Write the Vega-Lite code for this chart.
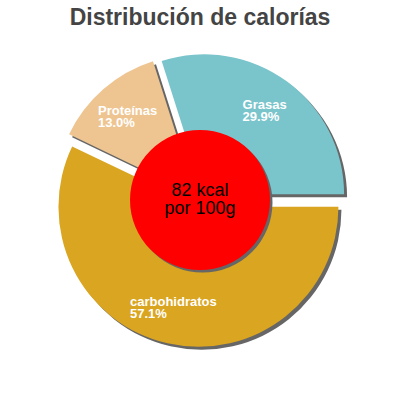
{
  "$schema": "https://vega.github.io/schema/vega-lite/v6.json",
  "width": 400,
  "height": 400,
  "padding": {"top": 7, "bottom": 30, "left": 0, "right": 0},
  "autosize": {"type": "fit", "contains": "padding"},
  "background": "white",
  "title": {
    "text": "Distribución de calorías",
    "fontSize": 23,
    "font": "Liberation Sans",
    "fontWeight": "bold",
    "color": "#444444",
    "anchor": "middle",
    "frame": "group",
    "baseline": "top",
    "offset": 0
  },
  "datasets": {
    "slices": [
      {"cat": "carbohidratos", "pct": 57.1, "ord": 1, "label": ["carbohidratos", "57.1%"]},
      {"cat": "Proteínas", "pct": 13.0, "ord": 2, "label": ["Proteínas", "13.0%"]},
      {"cat": "Grasas", "pct": 29.9, "ord": 3, "label": ["Grasas", "29.9%"]}
    ],
    "center": [
      {"kcal": ["82 kcal", "por 100g"]}
    ]
  },
  "layer": [
    {
      "data": {"name": "slices"},
      "layer": [
        {
          "mark": {"type": "arc", "outerRadius": 140, "innerRadius": 50, "fill": "#666666", "xOffset": 1.45, "yOffset": 9.8},
          "encoding": {
            "theta": {"field": "pct", "type": "quantitative", "stack": true, "scale": {"domain": [0, 100], "range": [1.5708, 7.854]}},
            "order": {"field": "ord", "type": "quantitative"},
            "opacity": {"condition": {"test": "datum.cat === 'carbohidratos'", "value": 1}, "value": 0}
          }
        },
        {
          "mark": {"type": "arc", "outerRadius": 140, "innerRadius": 50, "fill": "#666666", "xOffset": -1.6, "yOffset": -2.3},
          "encoding": {
            "theta": {"field": "pct", "type": "quantitative", "stack": true},
            "order": {"field": "ord", "type": "quantitative"},
            "opacity": {"condition": {"test": "datum.cat === 'Proteínas'", "value": 1}, "value": 0}
          }
        },
        {
          "mark": {"type": "arc", "outerRadius": 140, "innerRadius": 50, "fill": "#666666", "xOffset": 7.1, "yOffset": -2.65},
          "encoding": {
            "theta": {"field": "pct", "type": "quantitative", "stack": true},
            "order": {"field": "ord", "type": "quantitative"},
            "opacity": {"condition": {"test": "datum.cat === 'Grasas'", "value": 1}, "value": 0}
          }
        },
        {
          "mark": {"type": "arc", "outerRadius": 140, "innerRadius": 50, "fill": "#daa520", "xOffset": -1.55, "yOffset": 6.8},
          "encoding": {
            "theta": {"field": "pct", "type": "quantitative", "stack": true},
            "order": {"field": "ord", "type": "quantitative"},
            "opacity": {"condition": {"test": "datum.cat === 'carbohidratos'", "value": 1}, "value": 0}
          }
        },
        {
          "mark": {"type": "arc", "outerRadius": 140, "innerRadius": 50, "fill": "#eec591", "xOffset": -4.6, "yOffset": -5.3},
          "encoding": {
            "theta": {"field": "pct", "type": "quantitative", "stack": true},
            "order": {"field": "ord", "type": "quantitative"},
            "opacity": {"condition": {"test": "datum.cat === 'Proteínas'", "value": 1}, "value": 0}
          }
        },
        {
          "mark": {"type": "arc", "outerRadius": 140, "innerRadius": 50, "fill": "#7ac4cc", "xOffset": 4.1, "yOffset": -5.65},
          "encoding": {
            "theta": {"field": "pct", "type": "quantitative", "stack": true},
            "order": {"field": "ord", "type": "quantitative"},
            "opacity": {"condition": {"test": "datum.cat === 'Grasas'", "value": 1}, "value": 0}
          }
        },
        {
          "mark": {"type": "text", "radius": 102, "xOffset": -1.55, "yOffset": 6.8, "dx": -45.9, "dy": -4.7, "align": "left", "baseline": "middle", "fontSize": 13, "fontWeight": "bold", "lineHeight": 12, "font": "Liberation Sans", "color": "white"},
          "encoding": {
            "theta": {"field": "pct", "type": "quantitative", "stack": true},
            "order": {"field": "ord", "type": "quantitative"},
            "text": {"condition": {"test": "datum.cat === 'carbohidratos'", "field": "label"}, "value": ""}
          }
        },
        {
          "mark": {"type": "text", "radius": 102, "xOffset": -4.6, "yOffset": -5.3, "dx": -30.4, "dy": -6.7, "align": "left", "baseline": "middle", "fontSize": 13, "fontWeight": "bold", "lineHeight": 12, "font": "Liberation Sans", "color": "white"},
          "encoding": {
            "theta": {"field": "pct", "type": "quantitative", "stack": true},
            "order": {"field": "ord", "type": "quantitative"},
            "text": {"condition": {"test": "datum.cat === 'Proteínas'", "field": "label"}, "value": ""}
          }
        },
        {
          "mark": {"type": "text", "radius": 102, "xOffset": 4.1, "yOffset": -5.65, "dx": -21.8, "dy": -7.4, "align": "left", "baseline": "middle", "fontSize": 13, "fontWeight": "bold", "lineHeight": 12, "font": "Liberation Sans", "color": "white"},
          "encoding": {
            "theta": {"field": "pct", "type": "quantitative", "stack": true},
            "order": {"field": "ord", "type": "quantitative"},
            "text": {"condition": {"test": "datum.cat === 'Grasas'", "field": "label"}, "value": ""}
          }
        }
      ]
    },
    {
      "data": {"name": "center"},
      "layer": [
        {
          "mark": {"type": "arc", "outerRadius": 70, "innerRadius": 0, "fill": "#666666", "xOffset": 2.5, "yOffset": 2.5},
          "encoding": {"theta": {"value": 6.2832}}
        },
        {
          "mark": {"type": "arc", "outerRadius": 70, "innerRadius": 0, "fill": "#ff0000"},
          "encoding": {"theta": {"value": 6.2832}}
        },
        {
          "mark": {"type": "text", "fontSize": 18, "lineHeight": 18, "font": "Liberation Sans", "color": "#000000", "align": "center", "baseline": "middle", "dy": -9},
          "encoding": {"text": {"field": "kcal"}}
        }
      ]
    }
  ]
}
